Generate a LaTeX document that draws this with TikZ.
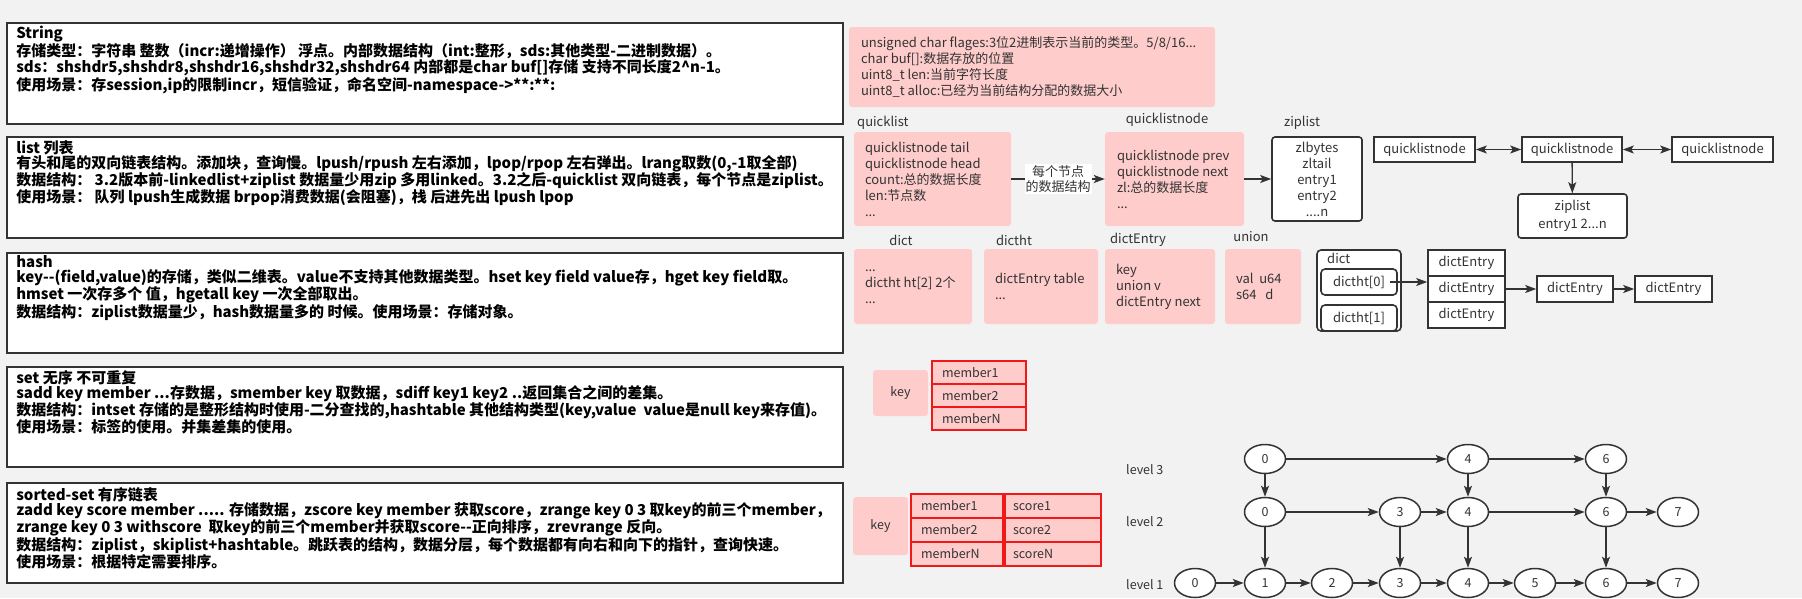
\documentclass[tikz,border=0pt]{standalone}
\usepackage{fontspec}
\setmainfont{Noto Sans CJK SC}
\usepackage{xcolor}
\usetikzlibrary{arrows.meta,positioning,shapes.geometric}

\definecolor{bgc}{HTML}{F2F2F2}
\definecolor{pinkc}{HTML}{FFCCCC}
\definecolor{inkc}{HTML}{333333}
\definecolor{redc}{HTML}{F01818}

\tikzset{
  leftbox/.style={draw=black!80, line width=1.8pt, fill=white, minimum width=836pt, inner sep=0pt},
  lefttext/.style={anchor=north west, align=left, inner sep=0pt, font=\bfseries\fontsize{15}{15}\selectfont},
  pinkbox/.style={fill=pinkc, rounded corners=3pt, inner sep=0pt},
  pinktext/.style={anchor=west, align=left, inner sep=0pt, text=inkc, font=\fontsize{13}{16}\selectfont},
  boxtitle/.style={inner sep=0pt, text=inkc, font=\fontsize{13}{16}\selectfont},
  whitebox/.style={draw=inkc, line width=1.6pt, fill=white, inner sep=0pt, text=inkc, align=center, font=\fontsize{13}{16}\selectfont},
  cell/.style={draw=redc, line width=1.2pt, fill=pinkc, inner xsep=10pt, inner ysep=0pt, text=inkc, align=left, minimum height=23pt, font=\fontsize{12.5}{14}\selectfont},
  skipnode/.style={ellipse, draw=inkc, line width=1.5pt, fill=white, minimum width=41pt, minimum height=29pt, inner sep=0pt, text=inkc, font=\fontsize{12.5}{14}\selectfont},
  link/.style={draw=inkc, line width=1.3pt, -{Stealth[length=11pt,width=8pt,inset=2.5pt]}},
  duallink/.style={draw=inkc, line width=1.3pt, {Stealth[length=11pt,width=8pt,inset=2.5pt]}-{Stealth[length=11pt,width=8pt,inset=2.5pt]}},
}

\begin{document}
\begin{tikzpicture}[x=1pt,y=-1pt]
    \fill[bgc] (0,0) rectangle (1802,598);
    \useasboundingbox (0,0) rectangle (1802,598);

    % String
    \node[leftbox, minimum height=101pt] (strbox) at (425,73.5) {};
    \node[lefttext] (strtext) at ([shift={(10,4)}]strbox.north west) {String\\
      存储类型：字符串 整数（incr:递增操作） 浮点。内部数据结构（int:整形，sds:其他类型-二进制数据）。\\
      sds：shshdr5,shshdr8,shshdr16,shshdr32,shshdr64 内部都是char buf[]存储 支持不同长度2\textasciicircum n-1。\\
      使用场景：存session,ip的限制incr，短信验证，命名空间-namespace->**:**:};

    % list
    \node[leftbox, minimum height=101pt] (listbox) at (425,187.5) {};
    \node[lefttext] (listtext) at ([shift={(10,4)}]listbox.north west) {list 列表\\
      有头和尾的双向链表结构。添加块，查询慢。lpush/rpush 左右添加，lpop/rpop 左右弹出。lrang取数(0,-1取全部)\\
      数据结构： 3.2版本前-linkedlist+ziplist 数据量少用zip 多用linked。3.2之后-quicklist 双向链表，每个节点是ziplist。\\
      使用场景： 队列 lpush生成数据 brpop消费数据(会阻塞)，栈 后进先出 lpush lpop};

    % hash
    \node[leftbox, minimum height=100pt] (hashbox) at (425,303) {};
    \node[lefttext] (hashtext) at ([shift={(10,3)}]hashbox.north west) {hash\\
      key-{}-(field,value)的存储，类似二维表。value不支持其他数据类型。hset key field value存，hget key field取。\\
      hmset 一次存多个 值，hgetall key 一次全部取出。\\
      数据结构：ziplist数据量少，hash数据量多的 时候。使用场景：存储对象。};

    % set
    \node[leftbox, minimum height=100pt] (setbox) at (425,417) {};
    \node[lefttext] (settext) at ([shift={(10,4)}]setbox.north west) {set 无序 不可重复\\
      sadd key member ...存数据，smember key 取数据，sdiff key1 key2 ..返回集合之间的差集。\\
      数据结构：intset 存储的是整形结构时使用-二分查找的,hashtable 其他结构类型(key,value\ \ value是null key来存值)。\\
      使用场景：标签的使用。并集差集的使用。};

    % sorted-set
    \node[leftbox, minimum height=100pt] (zsetbox) at (425,533) {};
    \node[lefttext] (zsettext) at ([shift={(10,5)}]zsetbox.north west) {sorted-set 有序链表\\
      zadd key score member ..... 存储数据，zscore key member 获取score，zrange key 0 3 取key的前三个member，\\
      zrange key 0 3 withscore\ \ 取key的前三个member并获取score-{}-正向排序，zrevrange 反向。\\
      数据结构：ziplist，skiplist+hashtable。跳跃表的结构，数据分层，每个数据都有向右和向下的指针，查询快速。\\
      使用场景：根据特定需要排序。};

    % sds
    \node[pinkbox, minimum width=366pt, minimum height=80pt] (sdsbox) at (1032,67) {};
    \node[pinktext] (sdstext) at ([xshift=12pt]sdsbox.west) {unsigned char flages:3位2进制表示当前的类型。5/8/16...\\
      char buf[]:数据存放的位置\\
      uint8\_t len:当前字符长度\\
      uint8\_t alloc:已经为当前结构分配的数据大小};

    % quicklist
    \node[boxtitle, anchor=west] (qltitle) at (857,123) {quicklist};
    \node[pinkbox, minimum width=157pt, minimum height=94pt] (qlbox) at (932.5,179) {};
    \node[pinktext] (qltext) at ([xshift=11pt]qlbox.west) {quicklistnode tail\\
      quicklistnode head\\
      count:总的数据长度\\
      len:节点数\\
      ...};

    \node[boxtitle] (qlntitle) at (1167,120) {quicklistnode};
    \node[pinkbox, minimum width=139pt, minimum height=94pt] (qlnbox) at (1174.5,179) {};
    \node[pinktext] (qlntext) at ([xshift=12pt]qlnbox.west) {quicklistnode prev\\
      quicklistnode next\\
      zl:总的数据长度\\
      ...};

    \node[boxtitle] (zltitle) at (1302,123) {ziplist};
    \node[whitebox, rounded corners=3pt, minimum width=90pt, minimum height=84pt] (zlbox) at (1317,179) {zlbytes\\zltail\\entry1\\entry2\\....n};

    \draw[link] (qlbox.east) -- (qlnbox.west)
      node[midway, fill=white, inner sep=1pt, align=center, text=inkc, font=\fontsize{13}{15}\selectfont] (qllabel) {每个节点\\的数据结构};
    \draw[link] (qlnbox.east) -- (zlbox.west);

    % quicklist nodes
    \node[whitebox, minimum width=101pt, minimum height=25pt] (qnleft) at (1424.5,149.5) {quicklistnode};
    \node[whitebox, minimum width=100pt, minimum height=25pt] (qnmid) at (1572,149.5) {quicklistnode};
    \node[whitebox, minimum width=101pt, minimum height=25pt] (qnright) at (1722.5,149.5) {quicklistnode};
    \node[whitebox, rounded corners=3pt, minimum width=109pt, minimum height=44pt] (qnzip) at (1572.5,216) {ziplist\\[2pt]entry1 2...n};
    \draw[duallink] (qnleft) -- (qnmid);
    \draw[duallink] (qnmid) -- (qnright);
    \draw[link] (qnmid) -- (qnzip);

    % dict structures
    \node[boxtitle] (dicttitle) at (901,240) {dict};
    \node[pinkbox, minimum width=118pt, minimum height=75pt] (dictbox) at (913,286.5) {};
    \node[pinktext] (dicttext) at ([xshift=11pt]dictbox.west) {...\\dictht ht[2] 2个\\...};

    \node[boxtitle] (dicthttitle) at (1014,240) {dictht};
    \node[pinkbox, minimum width=114pt, minimum height=75pt] (dicthtbox) at (1041,286.5) {};
    \node[pinktext] (dicthttext) at ([xshift=11pt]dicthtbox.west) {dictEntry table\\...};

    \node[boxtitle] (entrytitle) at (1138,240) {dictEntry};
    \node[pinkbox, minimum width=110pt, minimum height=75pt] (entrybox) at (1160,286.5) {};
    \node[pinktext] (entrytext) at ([xshift=11pt]entrybox.west) {key\\union v\\dictEntry next};

    \node[boxtitle] (uniontitle) at (1251,237) {union};
    \node[pinkbox, minimum width=76pt, minimum height=75pt] (unionbox) at (1263,286.5) {};
    \node[pinktext] (uniontext) at ([xshift=11pt]unionbox.west) {val\ \ u64\\s64\ \ \ d};

    % dict with two tables
    \node[whitebox, rounded corners=4pt, minimum width=84pt, minimum height=81pt] (dictouter) at (1359,290.5) {};
    \node[boxtitle, anchor=west] (dictlabel) at (1327,258) {dict};
    \node[whitebox, rounded corners=4pt, minimum width=76pt, minimum height=26pt] (htzero) at (1359,282) {dictht[0]};
    \node[whitebox, rounded corners=4pt, minimum width=76pt, minimum height=26pt] (htone) at (1359,318) {dictht[1]};
    \foreach \i in {1,2,3}
      \node[whitebox, minimum width=77pt, minimum height=26pt] (ent\i) at (1466.5,237+26*\i) {dictEntry};
    \node[whitebox, minimum width=76pt, minimum height=26pt] (entnext) at (1575,289) {dictEntry};
    \node[whitebox, minimum width=77pt, minimum height=26pt] (entlast) at (1673.5,289) {dictEntry};
    \draw[link] ([xshift=-8pt]htzero.east) -- (ent2.west |- htzero.east);
    \draw[link] (ent2) -- (entnext);
    \draw[link] (entnext) -- (entlast);

    % set
    \node[pinkbox, minimum width=55pt, minimum height=46pt, text=inkc, font=\fontsize{12.5}{14}\selectfont] (setkey) at (900.5,393) {key};
    \foreach \m [count=\i] in {member1,member2,memberN}
      \node[cell, text width=74pt] (sm\i) at (979,349.5+23*\i) {\m};

    % sorted-set
    \node[pinkbox, minimum width=55pt, minimum height=58pt, text=inkc, font=\fontsize{12.5}{14}\selectfont] (zkey) at (880.5,526) {key};
    \foreach \m/\s [count=\i] in {member1/score1,member2/score2,memberN/scoreN} {
      \node[cell, text width=72pt, minimum height=24pt] (zm\i) at (957,482+24*\i) {\m};
      \node[cell, text width=80pt, inner xsep=8pt, minimum height=24pt] (zs\i) at (1053,482+24*\i) {\s};
    }

    % skip list
    \node[boxtitle, anchor=west, font=\fontsize{12.5}{14}\selectfont] (lvthree) at (1126,470) {level 3};
    \node[boxtitle, anchor=west, font=\fontsize{12.5}{14}\selectfont] (lvtwo) at (1126,522) {level 2};
    \node[boxtitle, anchor=west, font=\fontsize{12.5}{14}\selectfont] (lvone) at (1126,585) {level 1};

    \foreach \v/\x in {0/1195,1/1265,2/1332,3/1400,4/1468,5/1535,6/1606,7/1678}
      \node[skipnode] (sa\v) at (\x,583) {\v};
    \foreach \v/\x in {0/1265,3/1400,4/1468,6/1606,7/1678}
      \node[skipnode] (sb\v) at (\x,512) {\v};
    \foreach \v/\x in {0/1265,4/1468,6/1606}
      \node[skipnode] (sc\v) at (\x,459) {\v};

    \foreach \p/\q in {0/1,1/2,2/3,3/4,4/5,5/6,6/7}
      \draw[link] (sa\p) -- (sa\q);
    \foreach \p/\q in {0/3,3/4,4/6,6/7}
      \draw[link] (sb\p) -- (sb\q);
    \draw[link] (sc0) -- (sc4);
    \draw[link] (sc4) -- (sc6);

    \foreach \v in {0,4,6}
      \draw[link] (sc\v) -- (sb\v);
    \draw[link] (sb0) -- (sa1);
    \foreach \v in {3,4,6}
      \draw[link] (sb\v) -- (sa\v);
\end{tikzpicture}
\end{document}
